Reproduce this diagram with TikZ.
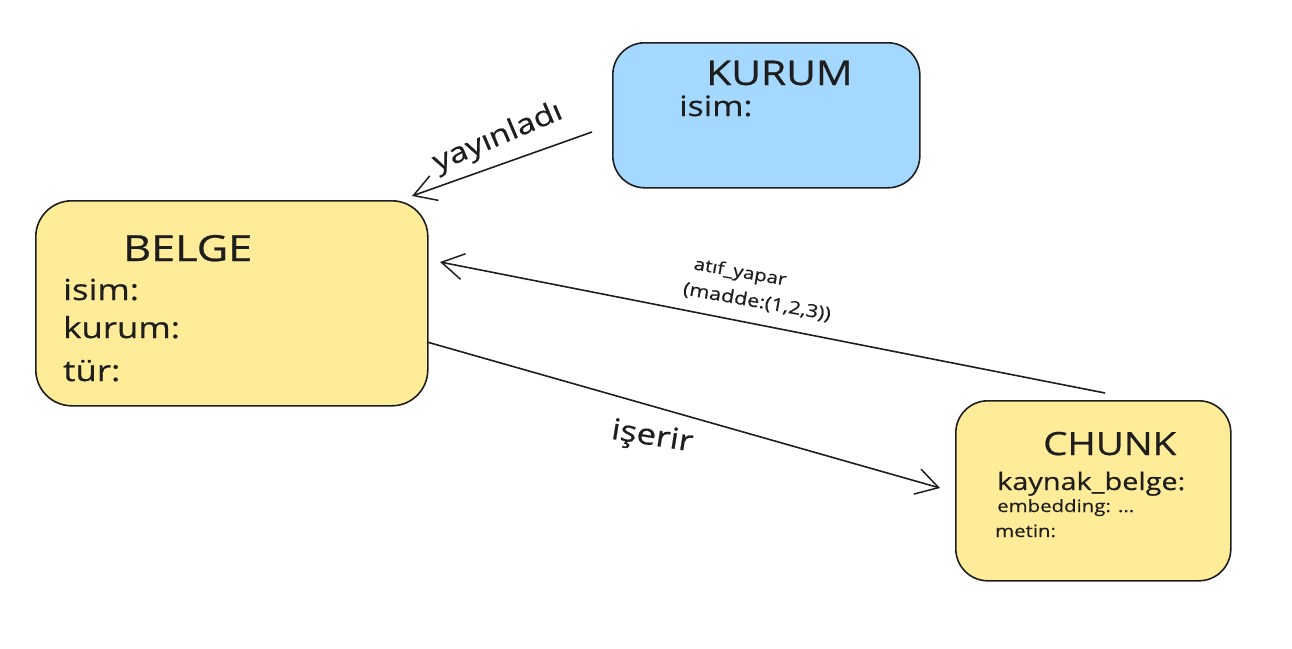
\documentclass[tikz,border=0pt]{standalone}
\usepackage{fontspec}
\setmainfont[FakeStretch=1.2,FakeBold=0.6]{Open Sans}
\usetikzlibrary{arrows.meta}
\definecolor{ink}{HTML}{1E1E1E}
\definecolor{bluefill}{HTML}{A5D8FF}
\definecolor{yellowfill}{HTML}{FFEC99}
\newcommand{\fs}[1]{\fontsize{#1}{#1}\selectfont}
\tikzset{
  entity/.style={draw=ink, line width=1.6pt, rounded corners=32pt},
  txt/.style={anchor=base west, inner sep=0pt, text=ink},
  lbl/.style={inner sep=0pt, text=ink, align=center},
  arr/.style={draw=ink, line width=1.6pt, -{Straight Barb[length=22pt,width=26pt,line width=1.5pt]}}
}
\begin{document}
\begin{tikzpicture}[x=1pt,y=-1pt]
\useasboundingbox (0,0) rectangle (1292,648);
% boxes
\node[entity, fill=bluefill, minimum width=307pt, minimum height=145pt, anchor=north west] (kurum) at (612,42) {};
\node[entity, fill=yellowfill, minimum width=392pt, minimum height=205pt, anchor=north west, rounded corners=36pt] (belge) at (35,200) {};
\node[entity, fill=yellowfill, minimum width=275pt, minimum height=180pt, anchor=north west] (chunk) at (955,400) {};
% texts
\node[txt, font=\fs{34}] (kt) at (706,85) {KURUM};
\node[txt, font=\fs{28}] (ki) at (679,116) {isim:};
\node[txt, font=\fs{36}] (bt) at (123,261) {BELGE};
\node[txt, font=\fs{29}] (bi) at (63,300) {isim:};
\node[txt, font=\fs{29}] (bk) at (63,338) {kurum:};
\node[txt, font=\fs{29}] (btr) at (63,381) {tür:};
\node[txt, font=\fs{32}] (ct) at (1043,455) {CHUNK};
\node[txt, font=\fs{24}] (ck) at (997,490) {kaynak\_belge:};
\node[txt, font=\fs{17}] (ce) at (997,512) {embedding: ...};
\node[txt, font=\fs{17}] (cm) at (995,537) {metin:};
% connector ends
\coordinate (k1) at (592,132);
\coordinate (b1) at (412,196);
\coordinate (c1) at (1105,393);
\coordinate (b2) at (440,262);
\coordinate (b3) at (427,342);
\coordinate (c3) at (940,488);
% connectors
\draw[arr] (k1) -- (b1);
\draw[arr] (c1) -- (b2);
\draw[arr] (b3) -- (c3);
% labels
\node[lbl, font=\fs{28}, rotate=23] (l1) at (498,138) {yayınladı};
\node[lbl, font=\fs{17}, rotate=-10] (l2) at (740,273) {atıf\_yapar};
\node[lbl, font=\fs{18}, rotate=-10] (l3) at (757,302) {(madde:(1,2,3))};
\node[lbl, font=\fs{29}, rotate=-9] (l4) at (652,438) {işerir};
\end{tikzpicture}
\end{document}
